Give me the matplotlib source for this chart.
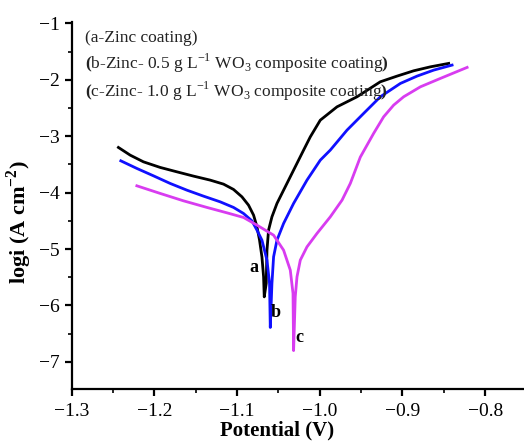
import matplotlib
matplotlib.use('Agg')
import matplotlib.pyplot as plt
from matplotlib.ticker import MultipleLocator

# potential (V) and log current density
a_pot = [-1.2436, -1.2294, -1.2133, -1.1931, -1.1729, -1.1528, -1.1326, -1.1165, -1.1044,
         -1.0942, -1.0862, -1.0801, -1.0760, -1.0729, -1.0700, -1.0680, -1.0672,
         -1.0648, -1.0639, -1.0620, -1.0579, -1.0518, -1.0438, -1.0317, -1.0196, -1.0115,
         -0.9994, -0.9792, -0.9550, -0.9268, -0.9065, -0.8864, -0.8662, -0.8441]
a_logi = [-3.199, -3.335, -3.454, -3.553, -3.631, -3.707, -3.778, -3.849, -3.943,
          -4.074, -4.222, -4.399, -4.606, -4.842, -5.138, -5.493, -5.848,
          -5.610, -5.020, -4.665, -4.429, -4.191, -3.956, -3.601, -3.246, -3.011,
          -2.715, -2.479, -2.301, -2.035, -1.934, -1.840, -1.770, -1.709]

b_pot = [-1.2407, -1.2213, -1.2012, -1.1810, -1.1608, -1.1407, -1.1205, -1.1044, -1.0923,
         -1.0821, -1.0760, -1.0700, -1.0639, -1.0608, -1.0599,
         -1.0579, -1.0559, -1.0518, -1.0438, -1.0317, -1.0155, -0.9994, -0.9873, -0.9671,
         -0.9470, -0.9268, -0.9025, -0.8823, -0.8622, -0.8400]
b_logi = [-3.436, -3.571, -3.702, -3.837, -3.956, -4.062, -4.163, -4.262, -4.369,
          -4.500, -4.665, -4.842, -5.197, -5.610, -6.390,
          -5.610, -5.138, -4.842, -4.546, -4.191, -3.778, -3.424, -3.246, -2.892,
          -2.596, -2.301, -2.064, -1.934, -1.828, -1.739]

c_pot = [-1.2213, -1.1931, -1.1649, -1.1366, -1.1123, -1.0923, -1.0760, -1.0559, -1.0438,
         -1.0357, -1.0324, -1.0317,
         -1.0297, -1.0276, -1.0236, -1.0155, -1.0034, -0.9873, -0.9731, -0.9631, -0.9593,
         -0.9510, -0.9349, -0.9228, -0.9107, -0.8986, -0.8783, -0.8541, -0.8218]
c_logi = [-3.879, -4.014, -4.145, -4.262, -4.358, -4.440, -4.576, -4.754, -5.020,
          -5.374, -5.787, -6.800,
          -5.848, -5.493, -5.197, -4.961, -4.723, -4.429, -4.133, -3.837, -3.691,
          -3.370, -2.950, -2.656, -2.449, -2.301, -2.124, -1.975, -1.780]

curve_labels = ['a', 'b', 'c']
label_pot = [-1.080, -1.053, -1.025]
label_logi = [-5.32, -6.13, -6.56]

legend_lines = [
    '(a-Zinc coating)',
    r'$\mathbf{(}$b-Zinc- 0.5 g L$^{-1}$ WO$_3$ composite coating$\mathbf{)}$',
    r'$\mathbf{(}$c-Zinc- 1.0 g L$^{-1}$ WO$_3$ composite coating$\mathbf{)}$',
]

plt.rcParams['font.family'] = ['Liberation Serif', 'DejaVu Serif']
plt.rcParams['mathtext.fontset'] = 'custom'
plt.rcParams['mathtext.rm'] = 'Liberation Serif'
plt.rcParams['mathtext.bf'] = 'Liberation Serif:bold'

fig = plt.figure(figsize=(5.24, 4.43), dpi=100)
ax = fig.add_axes([0.137, 0.122, 0.863, 0.829])

ax.plot(a_pot, a_logi, color='black', lw=2.0)
ax.plot(b_pot, b_logi, color='#1010ff', lw=2.0)
ax.plot(c_pot, c_logi, color='#d83cf0', lw=2.0)

for lab, xp, yp in zip(curve_labels, label_pot, label_logi):
    ax.text(xp, yp, lab, fontsize=13, fontweight='bold', ha='center', va='center')

for i, line in enumerate(legend_lines):
    ax.text(0.029, [0.9455, 0.873, 0.796][i], line, transform=ax.transAxes, fontsize=12.5,
            ha='left', va='baseline', color='#222222')

ax.set_xlim(-1.3, -0.753)
ax.set_ylim(-7.48, -0.97)
ax.xaxis.set_major_locator(MultipleLocator(0.1))
ax.xaxis.set_minor_locator(MultipleLocator(0.05))
ax.yaxis.set_major_locator(MultipleLocator(1))
ax.yaxis.set_minor_locator(MultipleLocator(0.5))
ax.xaxis.set_major_formatter(plt.FuncFormatter(lambda v, p: f'{v:.1f}'.replace('-', '\u2212')))
ax.yaxis.set_major_formatter(plt.FuncFormatter(lambda v, p: f'{v:.0f}'.replace('-', '\u2212')))

ax.spines['top'].set_visible(False)
ax.spines['right'].set_visible(False)
ax.spines['left'].set_linewidth(1.6)
ax.spines['bottom'].set_linewidth(1.6)
ax.tick_params(which='major', direction='out', length=5, width=1.6, labelsize=14)
ax.tick_params(axis='x', which='major', pad=5)
ax.tick_params(which='minor', direction='out', length=3, width=1.2)

ax.set_xlabel('Potential (V)', fontsize=15, fontweight='bold')
ax.xaxis.set_label_coords(0.454, -0.086)
ax.set_ylabel(r'logi (A cm$^{\mathbf{-2}}$)', fontsize=16, fontweight='bold')
ax.yaxis.set_label_coords(-0.083, 0.455)

fig.savefig('out.png', dpi=100)
